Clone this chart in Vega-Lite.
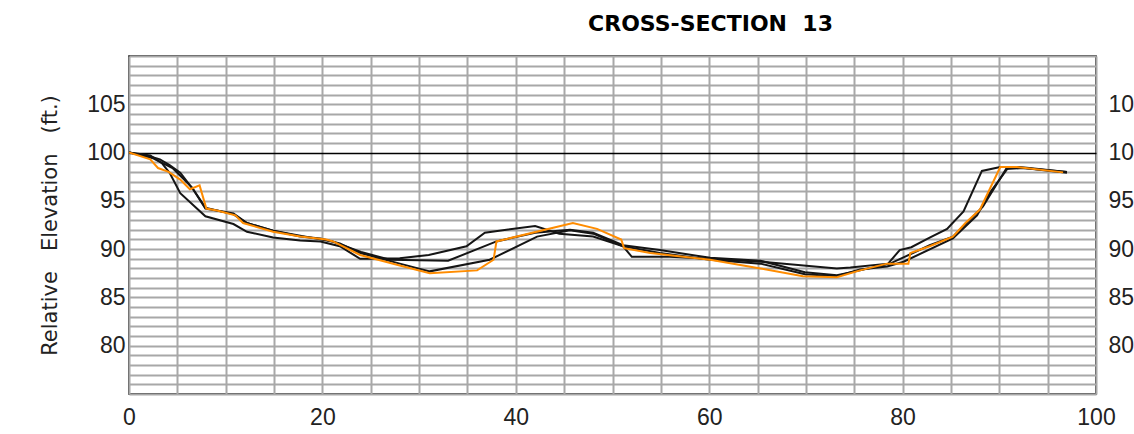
{
  "$schema": "https://vega.github.io/schema/vega-lite/v6.json",
  "width": 967,
  "height": 338,
  "autosize": {"type": "none"},
  "padding": {"left": 129, "top": 56, "right": 38, "bottom": 40},
  "background": "white",
  "title": {
    "text": "CROSS-SECTION\u00a0\u00a013",
    "anchor": "middle",
    "dx": 98,
    "baseline": "bottom",
    "offset": -13,
    "font": "DejaVu Sans",
    "fontSize": 22,
    "fontWeight": "bold",
    "color": "black"
  },
  "config": {
    "view": {"stroke": "black", "strokeWidth": 1.5},
    "axis": {
      "labelFont": "Liberation Sans",
      "labelFontSize": 23,
      "labelColor": "#222",
      "titleFont": "DejaVu Sans",
      "titleFontWeight": "normal",
      "titleColor": "#222",
      "domain": false,
      "ticks": false,
      "labelOverlap": false,
      "labelBound": false,
      "labelFlush": false
    }
  },
  "data": {
    "values": [
      {"series": "Line 1", "x": 0, "y": 100},
      {"series": "Line 1", "x": 2.2, "y": 99.7},
      {"series": "Line 1", "x": 3.4, "y": 98.9},
      {"series": "Line 1", "x": 4.2, "y": 97.9},
      {"series": "Line 1", "x": 5.3, "y": 95.8},
      {"series": "Line 1", "x": 7.9, "y": 93.4},
      {"series": "Line 1", "x": 10.8, "y": 92.6},
      {"series": "Line 1", "x": 12.2, "y": 91.8},
      {"series": "Line 1", "x": 14.9, "y": 91.2},
      {"series": "Line 1", "x": 17.7, "y": 90.9},
      {"series": "Line 1", "x": 19.8, "y": 90.8},
      {"series": "Line 1", "x": 21.8, "y": 90.3},
      {"series": "Line 1", "x": 23.9, "y": 89.0},
      {"series": "Line 1", "x": 24.9, "y": 89.0},
      {"series": "Line 1", "x": 28.0, "y": 89.05},
      {"series": "Line 1", "x": 31.0, "y": 89.4},
      {"series": "Line 1", "x": 34.9, "y": 90.3},
      {"series": "Line 1", "x": 36.8, "y": 91.7},
      {"series": "Line 1", "x": 42.0, "y": 92.4},
      {"series": "Line 1", "x": 44.5, "y": 91.6},
      {"series": "Line 1", "x": 48.0, "y": 91.3},
      {"series": "Line 1", "x": 51.1, "y": 90.3},
      {"series": "Line 1", "x": 52.0, "y": 89.2},
      {"series": "Line 1", "x": 55.9, "y": 89.2},
      {"series": "Line 1", "x": 60.0, "y": 89.0},
      {"series": "Line 1", "x": 65.3, "y": 88.7},
      {"series": "Line 1", "x": 73.2, "y": 88.0},
      {"series": "Line 1", "x": 74.6, "y": 88.1},
      {"series": "Line 1", "x": 78.5, "y": 88.5},
      {"series": "Line 1", "x": 79.7, "y": 89.9},
      {"series": "Line 1", "x": 80.9, "y": 90.2},
      {"series": "Line 1", "x": 82.8, "y": 91.2},
      {"series": "Line 1", "x": 84.6, "y": 92.1},
      {"series": "Line 1", "x": 86.3, "y": 93.9},
      {"series": "Line 1", "x": 88.2, "y": 98.1},
      {"series": "Line 1", "x": 90.1, "y": 98.5},
      {"series": "Line 1", "x": 92.1, "y": 98.5},
      {"series": "Line 1", "x": 97.0, "y": 98.0},

      {"series": "Line 2", "x": 0, "y": 100},
      {"series": "Line 2", "x": 2.5, "y": 99.4},
      {"series": "Line 2", "x": 4.5, "y": 98.4},
      {"series": "Line 2", "x": 6.5, "y": 96.4},
      {"series": "Line 2", "x": 7.9, "y": 94.3},
      {"series": "Line 2", "x": 10.8, "y": 93.6},
      {"series": "Line 2", "x": 12.2, "y": 92.7},
      {"series": "Line 2", "x": 14.9, "y": 91.9},
      {"series": "Line 2", "x": 17.7, "y": 91.4},
      {"series": "Line 2", "x": 21.0, "y": 90.8},
      {"series": "Line 2", "x": 24.0, "y": 89.7},
      {"series": "Line 2", "x": 27.0, "y": 88.9},
      {"series": "Line 2", "x": 33.0, "y": 88.8},
      {"series": "Line 2", "x": 38.0, "y": 90.8},
      {"series": "Line 2", "x": 42.0, "y": 91.7},
      {"series": "Line 2", "x": 45.6, "y": 92.0},
      {"series": "Line 2", "x": 48.0, "y": 91.7},
      {"series": "Line 2", "x": 51.1, "y": 90.4},
      {"series": "Line 2", "x": 54.9, "y": 89.9},
      {"series": "Line 2", "x": 60.1, "y": 89.1},
      {"series": "Line 2", "x": 65.3, "y": 88.8},
      {"series": "Line 2", "x": 69.9, "y": 87.6},
      {"series": "Line 2", "x": 73.2, "y": 87.3},
      {"series": "Line 2", "x": 75.6, "y": 87.8},
      {"series": "Line 2", "x": 78.7, "y": 88.5},
      {"series": "Line 2", "x": 82.8, "y": 90.4},
      {"series": "Line 2", "x": 85.2, "y": 91.3},
      {"series": "Line 2", "x": 88.3, "y": 94.4},
      {"series": "Line 2", "x": 90.7, "y": 98.3},
      {"series": "Line 2", "x": 92.5, "y": 98.4},
      {"series": "Line 2", "x": 97.0, "y": 97.9},

      {"series": "Line 3", "x": 0, "y": 100},
      {"series": "Line 3", "x": 2.2, "y": 99.6},
      {"series": "Line 3", "x": 3.2, "y": 99.3},
      {"series": "Line 3", "x": 4.2, "y": 98.7},
      {"series": "Line 3", "x": 5.3, "y": 97.9},
      {"series": "Line 3", "x": 6.7, "y": 96.1},
      {"series": "Line 3", "x": 7.9, "y": 94.2},
      {"series": "Line 3", "x": 10.8, "y": 93.7},
      {"series": "Line 3", "x": 12.2, "y": 92.7},
      {"series": "Line 3", "x": 14.9, "y": 91.9},
      {"series": "Line 3", "x": 17.7, "y": 91.3},
      {"series": "Line 3", "x": 19.8, "y": 91.1},
      {"series": "Line 3", "x": 21.8, "y": 90.6},
      {"series": "Line 3", "x": 23.9, "y": 89.6},
      {"series": "Line 3", "x": 28.0, "y": 88.5},
      {"series": "Line 3", "x": 31.1, "y": 87.7},
      {"series": "Line 3", "x": 37.3, "y": 88.9},
      {"series": "Line 3", "x": 42.2, "y": 91.3},
      {"series": "Line 3", "x": 45.6, "y": 91.95},
      {"series": "Line 3", "x": 48.0, "y": 91.6},
      {"series": "Line 3", "x": 51.1, "y": 90.3},
      {"series": "Line 3", "x": 54.9, "y": 89.6},
      {"series": "Line 3", "x": 60.1, "y": 88.9},
      {"series": "Line 3", "x": 65.3, "y": 88.5},
      {"series": "Line 3", "x": 69.9, "y": 87.4},
      {"series": "Line 3", "x": 73.2, "y": 87.2},
      {"series": "Line 3", "x": 75.6, "y": 87.9},
      {"series": "Line 3", "x": 78.4, "y": 88.2},
      {"series": "Line 3", "x": 80.1, "y": 88.7},
      {"series": "Line 3", "x": 85.2, "y": 91.1},
      {"series": "Line 3", "x": 87.7, "y": 93.5},
      {"series": "Line 3", "x": 89.0, "y": 95.8},
      {"series": "Line 3", "x": 90.9, "y": 98.4},
      {"series": "Line 3", "x": 92.5, "y": 98.4},
      {"series": "Line 3", "x": 97.0, "y": 98.0},

      {"series": "Line 4", "x": 0, "y": 100},
      {"series": "Line 4", "x": 2.2, "y": 99.3},
      {"series": "Line 4", "x": 3.0, "y": 98.4},
      {"series": "Line 4", "x": 4.1, "y": 98.0},
      {"series": "Line 4", "x": 5.3, "y": 97.2},
      {"series": "Line 4", "x": 6.3, "y": 96.2},
      {"series": "Line 4", "x": 7.3, "y": 96.6},
      {"series": "Line 4", "x": 8.0, "y": 94.2},
      {"series": "Line 4", "x": 9.1, "y": 94.0},
      {"series": "Line 4", "x": 11.0, "y": 93.5},
      {"series": "Line 4", "x": 11.8, "y": 92.7},
      {"series": "Line 4", "x": 14.9, "y": 91.8},
      {"series": "Line 4", "x": 17.7, "y": 91.3},
      {"series": "Line 4", "x": 20.4, "y": 91.0},
      {"series": "Line 4", "x": 21.1, "y": 90.8},
      {"series": "Line 4", "x": 23.9, "y": 89.4},
      {"series": "Line 4", "x": 28.0, "y": 88.3},
      {"series": "Line 4", "x": 31.1, "y": 87.5},
      {"series": "Line 4", "x": 36.0, "y": 87.8},
      {"series": "Line 4", "x": 37.7, "y": 88.9},
      {"series": "Line 4", "x": 38.0, "y": 90.8},
      {"series": "Line 4", "x": 45.9, "y": 92.7},
      {"series": "Line 4", "x": 48.4, "y": 92.1},
      {"series": "Line 4", "x": 50.9, "y": 91.0},
      {"series": "Line 4", "x": 51.2, "y": 90.1},
      {"series": "Line 4", "x": 53.9, "y": 89.6},
      {"series": "Line 4", "x": 60.1, "y": 88.9},
      {"series": "Line 4", "x": 65.3, "y": 88.0},
      {"series": "Line 4", "x": 69.7, "y": 87.2},
      {"series": "Line 4", "x": 73.2, "y": 87.1},
      {"series": "Line 4", "x": 75.6, "y": 87.8},
      {"series": "Line 4", "x": 78.4, "y": 88.5},
      {"series": "Line 4", "x": 80.6, "y": 88.5},
      {"series": "Line 4", "x": 80.8, "y": 89.6},
      {"series": "Line 4", "x": 82.8, "y": 90.3},
      {"series": "Line 4", "x": 85.2, "y": 91.3},
      {"series": "Line 4", "x": 86.5, "y": 92.7},
      {"series": "Line 4", "x": 88.0, "y": 94.1},
      {"series": "Line 4", "x": 90.1, "y": 98.5},
      {"series": "Line 4", "x": 91.8, "y": 98.5},
      {"series": "Line 4", "x": 96.6, "y": 97.95}
    ]
  },
  "resolve": {"axis": {"y": "independent"}},
  "layer": [
    {
      "mark": {"type": "line", "clip": true},
      "encoding": {
        "x": {
          "field": "x",
          "type": "quantitative",
          "scale": {"domain": [0, 100], "nice": false, "zero": false},
          "axis": {
            "orient": "bottom",
            "values": [0, 5, 10, 15, 20, 25, 30, 35, 40, 45, 50, 55, 60, 65, 70, 75, 80, 85, 90, 95, 100],
            "labelExpr": "datum.value % 20 === 0 ? datum.label : ''",
            "grid": true,
            "gridColor": "#a8a8a8",
            "gridWidth": 2,
            "labelPadding": 12,
            "title": null
          }
        },
        "y": {
          "field": "y",
          "type": "quantitative",
          "scale": {"domain": [75, 110], "nice": false, "zero": false},
          "axis": {
            "orient": "left",
            "values": [75, 76, 77, 78, 79, 80, 81, 82, 83, 84, 85, 86, 87, 88, 89, 90, 91, 92, 93, 94, 95, 96, 97, 98, 99, 100, 101, 102, 103, 104, 105, 106, 107, 108, 109, 110],
            "labelExpr": "datum.value % 5 === 0 && datum.value > 75 && datum.value < 110 ? datum.label : ''",
            "grid": true,
            "gridColor": {"condition": {"test": "datum.value === 100", "value": "black"}, "value": "#a8a8a8"},
            "gridWidth": {"condition": {"test": "datum.value === 100", "value": 1.3}, "value": 2},
            "labelPadding": 4,
            "labelBaseline": "middle",
            "title": "Relative\u00a0\u00a0 Elevation\u00a0\u00a0 (ft.)",
            "titleFontSize": 21,
            "titleAngle": -90,
            "titleX": -79,
            "titleY": 169,
            "titleAlign": "center",
            "titleBaseline": "middle"
          }
        },
        "color": {
          "field": "series",
          "type": "nominal",
          "scale": {"domain": ["Line 1", "Line 2", "Line 3", "Line 4"], "range": ["#151515", "#151515", "#151515", "#ff8c00"]},
          "legend": null
        },
        "strokeWidth": {
          "field": "series",
          "type": "nominal",
          "scale": {"domain": ["Line 1", "Line 2", "Line 3", "Line 4"], "range": [2, 2, 2.9, 2.4]},
          "legend": null
        }
      }
    },
    {
      "mark": {"type": "line", "strokeOpacity": 0},
      "encoding": {
        "x": {"field": "x", "type": "quantitative"},
        "y": {
          "field": "y",
          "type": "quantitative",
          "axis": {
            "orient": "right",
            "values": [80, 85, 90, 95, 100, 105],
            "grid": false,
            "labelPadding": 12,
            "labelBaseline": "middle",
            "title": null
          }
        },
        "detail": {"field": "series"}
      }
    }
  ]
}
